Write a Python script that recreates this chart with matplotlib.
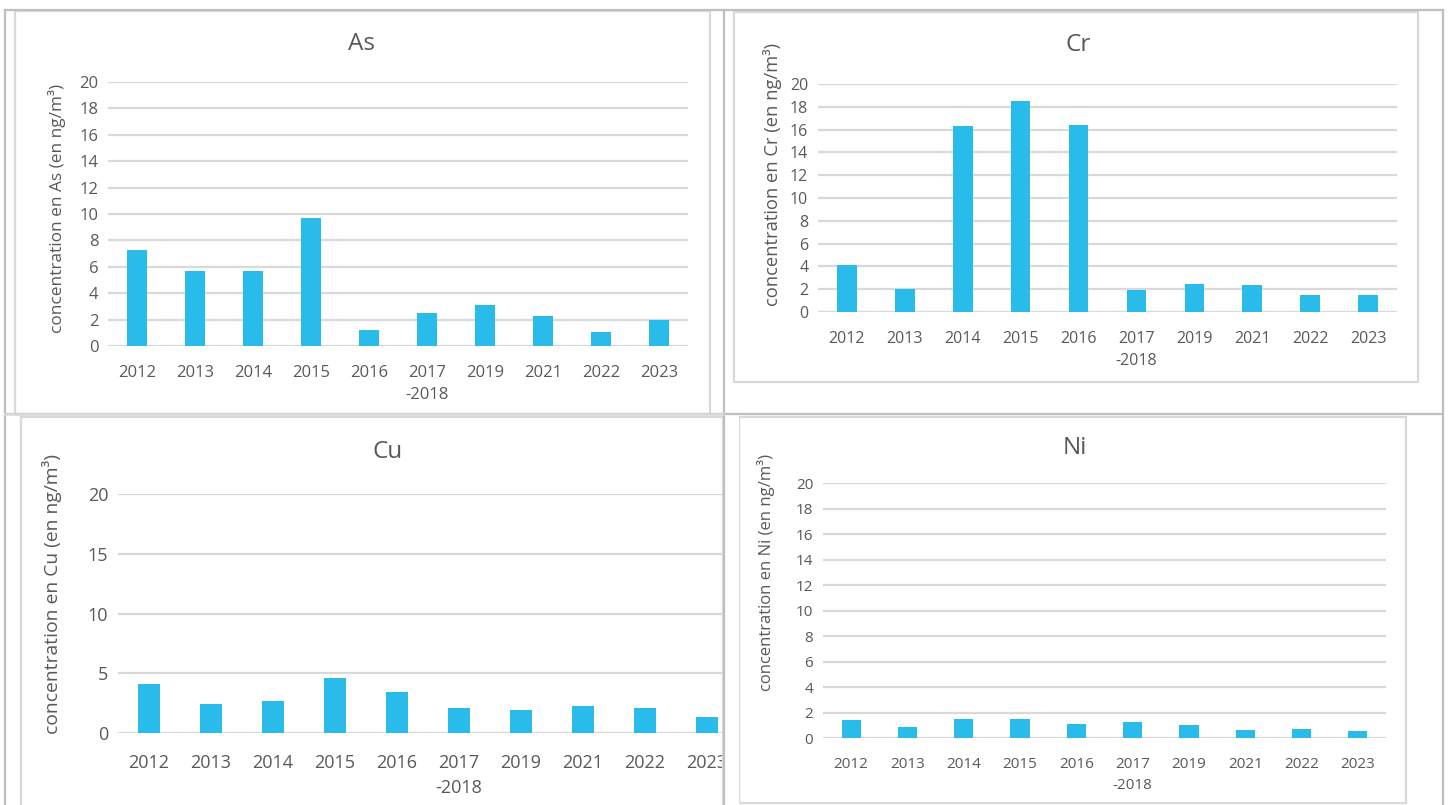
import matplotlib
matplotlib.use("Agg")
import matplotlib.pyplot as plt
import numpy as np
from matplotlib.patches import Rectangle
from matplotlib.lines import Line2D

plt.rcParams['font.family'] = ['Open Sans', 'DejaVu Sans']

# --- data ---
annees = ["2012", "2013", "2014", "2015", "2016", "2017\n-2018", "2019", "2021", "2022", "2023"]
val_as = [7.3, 5.7, 5.7, 9.7, 1.2, 2.5, 3.1, 2.27, 1.06, 2.0]
val_cr = [4.16, 1.99, 16.35, 18.55, 16.42, 1.91, 2.49, 2.4, 1.52, 1.52]
val_cu = [4.08, 2.43, 2.66, 4.59, 3.41, 2.1, 1.93, 2.27, 2.1, 1.37]
val_ni = [1.41, 0.86, 1.47, 1.47, 1.07, 1.28, 0.99, 0.6, 0.73, 0.55]
ticks_2 = [0, 2, 4, 6, 8, 10, 12, 14, 16, 18, 20]
ticks_5 = [0, 5, 10, 15, 20]

W, H = 1450, 805
BLEU = "#29BCEA"
GRIS_TXT = "#595959"
GRIS_GRILLE = "#D9D9D9"

fig = plt.figure(figsize=(W / 100, H / 100), dpi=100)


def rect_fig(x0, y0, x1, y1):
    # pixels (origine en haut a gauche) -> fraction de figure
    return [x0 / W, 1 - y1 / H, (x1 - x0) / W, (y1 - y0) / H]


def graphique(nom, valeurs, ticks, zone, tsize, titre_xy, lab_xy, lab_size, pad):
    ax = fig.add_axes(rect_fig(*zone))
    x = np.arange(len(annees))
    ax.bar(x, valeurs, width=0.34, color=BLEU, zorder=3)
    ax.set_xlim(-0.5, len(annees) - 0.5)
    ax.set_ylim(0, 20)
    ax.set_yticks(ticks)
    ax.set_xticks(x)
    ax.set_xticklabels(annees, linespacing=1.5)
    ax.tick_params(length=0, labelsize=tsize, labelcolor=GRIS_TXT)
    ax.tick_params(axis='x', pad=pad)
    ax.tick_params(axis='y', pad=7)
    ax.grid(axis='y', color=GRIS_GRILLE, linewidth=1.6, zorder=0)
    ax.set_axisbelow(True)
    for s in ax.spines.values():
        s.set_visible(False)
    ax.patch.set_alpha(0)
    fig.text(titre_xy[0] / W, 1 - titre_xy[1] / H, nom, ha='center', va='center',
             fontsize=17.5, color=GRIS_TXT)
    fig.text(lab_xy[0] / W, 1 - lab_xy[1] / H, "concentration en %s (en ng/m³)" % nom,
             rotation=90, ha='center', va='center', fontsize=lab_size, color=GRIS_TXT)
    return ax


# cadres des graphiques (gris clair)
for x0, y0, x1, y1 in [(15, 11, 710, 414), (734, 12, 1418, 382), (21, 417, 723, 830), (739, 417, 1406, 803)]:
    fig.add_artist(Rectangle((x0 / W, 1 - y1 / H), (x1 - x0) / W, (y1 - y0) / H,
                             transform=fig.transFigure, fill=False, ec=GRIS_GRILLE, lw=1.6, zorder=1))

graphique("As", val_as, ticks_2, (108, 82, 688, 346), 12, (362, 44), (57, 208), 12.4, 14)
graphique("Cr", val_cr, ticks_2, (818, 84, 1397, 312), 11.5, (1078, 45), (772, 174), 13.2, 14)
graphique("Cu", val_cu, ticks_5, (118, 494, 738, 733), 13, (388, 452), (52, 594), 13.9, 15)
graphique("Ni", val_ni, ticks_2, (823, 483, 1386, 738), 11, (1075, 448), (766, 572), 12, 14)

# le graphique Cu est coupe par la cellule du tableau
fig.add_artist(Rectangle((724 / W, 0), 14.5 / W, 1 - 416 / H, transform=fig.transFigure,
                         fc="white", ec="none", zorder=5))

# lignes du tableau (gris plus fonce)
for xs, ys in [([5, 1443], [10, 10]), ([5, 1443], [414, 414]), ([5, 5], [10, 805]),
               ([723.5, 723.5], [10, 805]), ([1443, 1443], [10, 805])]:
    fig.add_artist(Line2D([v / W for v in xs], [1 - v / H for v in ys], transform=fig.transFigure,
                          color="#BFBFBF", lw=1.6, zorder=6))
# partie gauche de la ligne du milieu plus claire
fig.add_artist(Line2D([5 / W, 723 / W], [1 - 414 / H] * 2, transform=fig.transFigure,
                      color=GRIS_GRILLE, lw=1.8, zorder=7))

fig.savefig("out.png", dpi=100, facecolor="white")
